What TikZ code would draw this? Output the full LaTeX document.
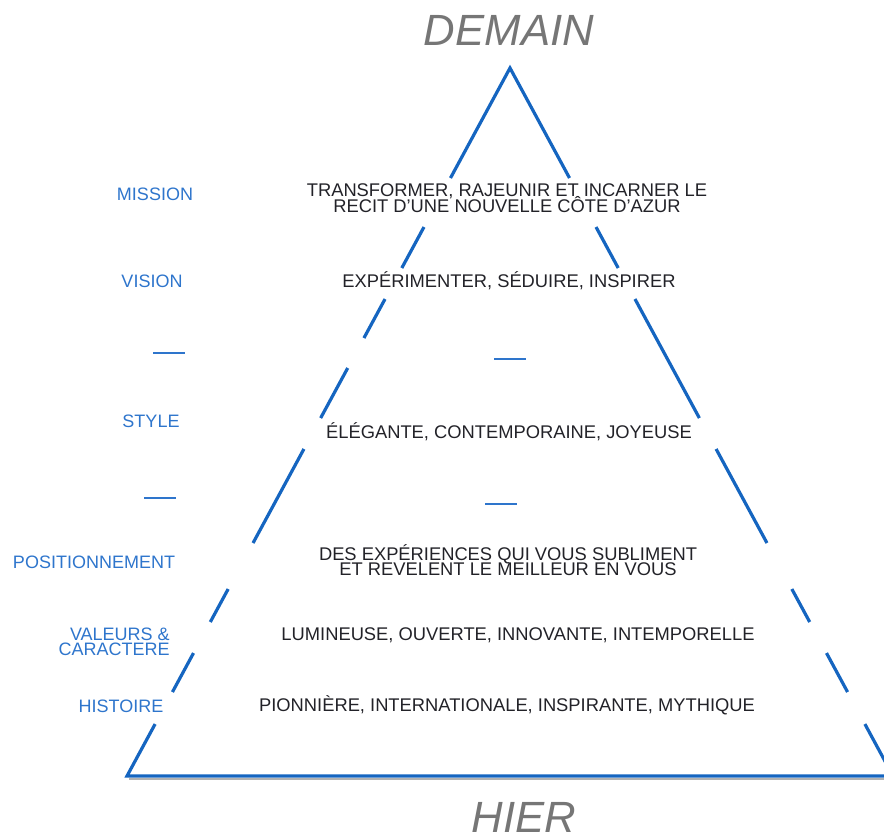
\documentclass[tikz,border=0pt]{standalone}
\usepackage{fontspec}
\setmainfont{Liberation Sans}
\usetikzlibrary{calc}
\definecolor{edgeblue}{RGB}{21,101,192}
\definecolor{labelblue}{RGB}{46,117,204}
\definecolor{txtdark}{RGB}{34,34,40}
\definecolor{headgray}{RGB}{118,118,118}
\begin{document}
\begin{tikzpicture}[x=0.75pt,y=-0.75pt,
  edge/.style={draw=edgeblue,line width=2.4pt,line join=miter},
  tick/.style={draw=labelblue,line width=1.1pt},
  body/.style={text=txtdark,inner sep=0pt,anchor=base,font=\fontsize{13.75}{13.75}\selectfont},
  tag/.style={text=labelblue,inner sep=0pt,anchor=base,font=\fontsize{13.5}{13.5}\selectfont},
  era/.style={text=headgray,inner sep=0pt,anchor=base,font=\fontsize{32.8}{32.8}\selectfont\itshape}]
\useasboundingbox (0,0) rectangle (884,836);

% corners of the pyramid
\coordinate (A) at (510,68);
\coordinate (L) at (127,776);
\coordinate (R) at (893,776);

% shadow under the base
\draw[draw=black!30,line width=1.5pt] ($(L)+(2,3)$) -- ($(R)+(0,3)$);

% apex and base pieces
\draw[edge] ($(A)!0.1554!(L)$) -- (A) -- ($(A)!0.1554!(R)$);
\draw[edge] ($(A)!0.9266!(L)$) -- (L) -- (R) -- ($(A)!0.9266!(R)$);

% broken sides, interrupted behind each row of text
\foreach \a/\b in {0.2246/0.2825,0.3263/0.3814,0.4237/0.4944,0.5381/0.6709,0.7359/0.7825,0.8263/0.8814}
  \draw[edge] ($(A)!\a!(L)$) -- ($(A)!\b!(L)$);
\foreach \a/\b in {0.2246/0.2825,0.3263/0.4944,0.5381/0.6709,0.7359/0.7825,0.8263/0.8814}
  \draw[edge] ($(A)!\a!(R)$) -- ($(A)!\b!(R)$);

% time axis
\node[era] (demain) at (509,45) {DEMAIN};
\node[era] (hier) at (524,832) {HIER};

% row captions
\node[tag] (tmission) at (155,200) {MISSION};
\node[tag] (tvision) at (152,287) {VISION};
\node[tag] (tstyle) at (151,427) {STYLE};
\node[tag] (tposition) at (94,568) {POSITIONNEMENT};
\node[tag,anchor=base east] (tvaleurs1) at (170,640) {VALEURS \&};
\node[tag,anchor=base east] (tvaleurs2) at (170,655) {CARACTERE};
\node[tag] (thistoire) at (121,712) {HISTOIRE};

% blank rows
\draw[tick] (153,353) -- (185,353);
\draw[tick] (144,498) -- (176,498);
\draw[tick] (494,359) -- (526,359);
\draw[tick] (485,504) -- (517,504);

% row contents
\node[body] (mission1) at (507,196) {TRANSFORMER, RAJEUNIR ET INCARNER LE};
\node[body] (mission2) at (507,212) {RECIT D'UNE NOUVELLE CÔTE D'AZUR};
\node[body] (vision) at (509,287) {EXPÉRIMENTER, SÉDUIRE, INSPIRER};
\node[body] (style) at (509,438) {ÉLÉGANTE, CONTEMPORAINE, JOYEUSE};
\node[body] (position1) at (508,560) {DES EXPÉRIENCES QUI VOUS SUBLIMENT};
\node[body] (position2) at (508,575) {ET REVELENT LE MEILLEUR EN VOUS};
\node[body] (valeurs) at (518,640) {LUMINEUSE, OUVERTE, INNOVANTE, INTEMPORELLE};
\node[body] (histoire) at (507,711) {PIONNIÈRE, INTERNATIONALE, INSPIRANTE, MYTHIQUE};
\end{tikzpicture}
\end{document}
